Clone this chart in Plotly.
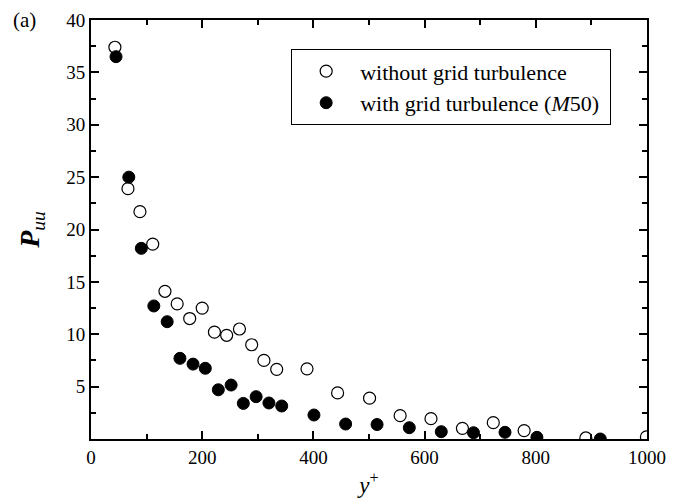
import plotly.graph_objects as go

# without grid turbulence (open circles)
y_plus_open = [43, 66.5, 88, 111, 133, 155, 177.5, 200, 222, 244, 267, 289, 311, 334,
               388.5, 443.5, 501, 556, 611.5, 668, 723.5, 779, 890, 999]
puu_open = [37.4, 23.9, 21.7, 18.6, 14.1, 12.9, 11.5, 12.5, 10.2, 9.9, 10.5, 9.0, 7.5, 6.65,
            6.7, 4.4, 3.9, 2.23, 1.94, 1.02, 1.56, 0.8, 0.1, 0.2]

# with grid turbulence (M50) (filled circles)
y_plus_fill = [45, 68, 90.5, 113, 137, 160, 183.5, 205.6, 229, 252, 274, 297, 320, 343,
               401, 458, 514.5, 572.5, 630, 688, 744.6, 802, 916]
puu_fill = [36.5, 25.0, 18.2, 12.7, 11.2, 7.7, 7.15, 6.75, 4.7, 5.15, 3.4, 4.04, 3.44, 3.15,
            2.29, 1.43, 1.38, 1.08, 0.70, 0.60, 0.64, 0.16, 0.0]

x_ticks = [0, 200, 400, 600, 800, 1000]
y_ticks = [5, 10, 15, 20, 25, 30, 35, 40]

FONT = "Liberation Serif"

fig = go.Figure()
fig.add_trace(go.Scatter(
    x=y_plus_open, y=puu_open, mode="markers", name="without grid turbulence",
    marker=dict(symbol="circle", size=12, color="white", line=dict(color="black", width=1.2)),
))
fig.add_trace(go.Scatter(
    x=y_plus_fill, y=puu_fill, mode="markers", name="with grid turbulence (<i>M</i>50)&nbsp;",
    marker=dict(symbol="circle", size=12, color="black", line=dict(color="black", width=1)),
))

axis_common = dict(
    showline=True, linecolor="black", linewidth=2, mirror="allticks",
    ticks="inside", ticklen=8, tickwidth=2, tickcolor="black",
    showgrid=False, zeroline=False, automargin=False,
    tickfont=dict(family=FONT, size=19, color="black"),
)

fig.update_xaxes(
    range=[0, 1000], tickvals=x_ticks, ticktext=[str(v) for v in x_ticks],
    minor=dict(ticks="inside", ticklen=5, tickwidth=2, tickcolor="black", dtick=100, showgrid=False),
    title=dict(text="<i>y</i><sup>+</sup>", font=dict(family=FONT, size=23, color="black"), standoff=10),
    **axis_common,
)
fig.update_yaxes(
    range=[0, 40], tickvals=y_ticks, ticktext=[str(v) for v in y_ticks],
    minor=dict(ticks="inside", ticklen=5, tickwidth=2, tickcolor="black", dtick=2.5, tick0=0, showgrid=False),
    title=dict(text="<b><i>P</i></b><sub><i>uu</i></sub>", font=dict(family=FONT, size=28, color="black"), standoff=18),
    **axis_common,
)

fig.add_annotation(
    text="(a)", xref="paper", yref="paper", x=-0.12, y=1.0, xanchor="center", yanchor="middle",
    showarrow=False, font=dict(family=FONT, size=21, color="black"),
)

fig.update_layout(
    template="none",
    width=681, height=500,
    margin=dict(l=91, r=34, t=20, b=61),
    paper_bgcolor="white", plot_bgcolor="white",
    font=dict(family=FONT, color="black"),
    legend=dict(
        x=0.36, y=0.93, xanchor="left", yanchor="top",
        bgcolor="white", bordercolor="black", borderwidth=1,
        font=dict(family=FONT, size=22, color="black"),
        itemwidth=58,
    ),
)

fig.write_html("out.html", config={"displayModeBar": False},
               post_script="document.body.style.margin='0px';")
